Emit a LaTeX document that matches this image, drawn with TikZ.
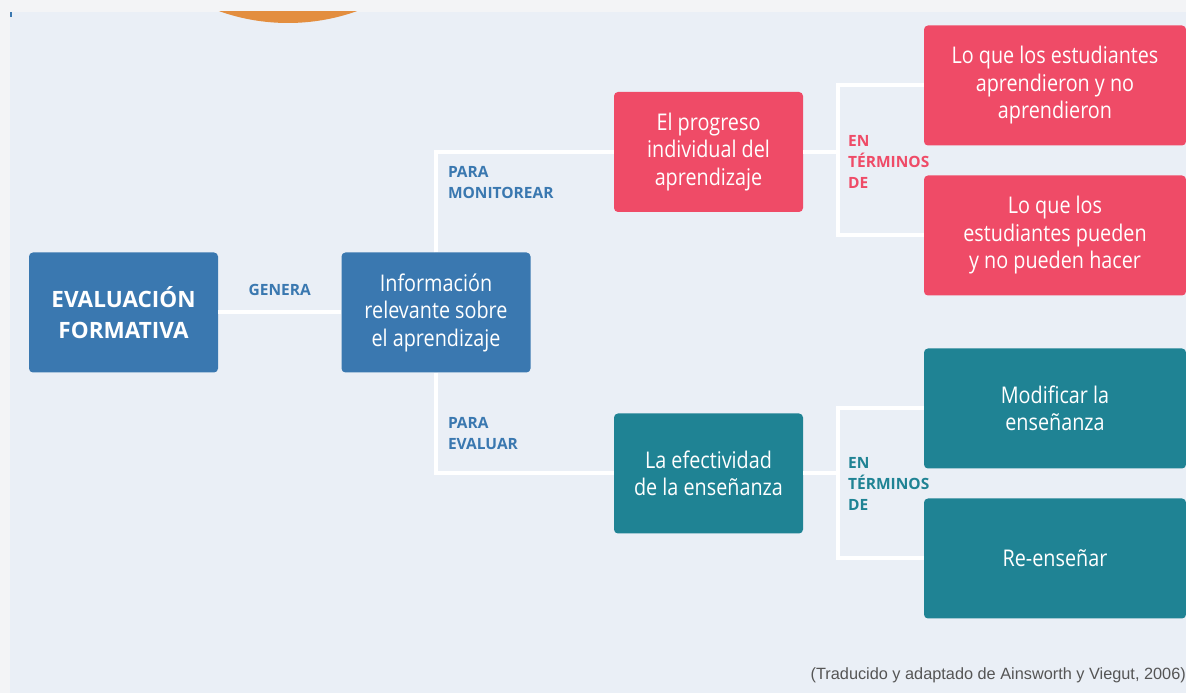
\documentclass[tikz,border=0pt]{standalone}
\usepackage{fontspec}
\setmainfont{Open Sans}[FakeStretch=0.86]
\newfontfamily\rotfont{Open Sans}
\newfontfamily\notefont{Liberation Sans}
\usepackage{tikz}
\usetikzlibrary{positioning}
\definecolor{azul}{HTML}{3A78B0}
\definecolor{rojo}{HTML}{EF4B67}
\definecolor{verde}{HTML}{1F8394}
\definecolor{fondo}{HTML}{EAEFF6}
\definecolor{marco}{HTML}{F3F4F6}
\definecolor{naranja}{HTML}{E38E3F}
\definecolor{gris}{HTML}{555555}
\tikzset{
    x=1pt, y=1pt, % one unit is one pixel of the page
    caja/.style={rounded corners=4pt, minimum height=120pt, text=white, align=center, inner sep=0pt, font=\fontsize{23}{27.5}\selectfont}, % every coloured box
    linea/.style={white, line width=4pt}, % the white connectors
}

\begin{document}
\begin{tikzpicture}[
                    cajaCorta/.style={caja, minimum width=189pt},
                    cajaAncha/.style={caja, minimum width=262pt},
                    rotulo/.style={font=\rotfont\bfseries\fontsize{15.5}{21}\selectfont, align=left, inner sep=0pt},
                ]
                \useasboundingbox (0,0) rectangle (1186,693);
                \fill[marco] (0,0) rectangle (1186,693);
                \fill[fondo] (10,0) rectangle (1186,681);
                \fill[azul] (10,676) rectangle (12,681);
                \begin{scope}
                    \clip (10,0) rectangle (1186,681);
                    \fill[naranja] (288,875) circle (205);
                \end{scope}
                \node[cajaCorta, fill=azul, font=\rotfont\bfseries\fontsize{22.5}{31}\selectfont] (evaluacion) at (123.5,380.5) {EVALUACIÓN\\FORMATIVA};
                \node[cajaCorta, fill=azul, node distance=312.5pt, right of=evaluacion] (informacion) {Información\\relevante sobre\\el aprendizaje};
                \node[cajaCorta, fill=rojo, node distance=272.5pt, right of=informacion, yshift=160.5pt] (progreso) {El progreso\\individual del\\aprendizaje};
                \node[cajaCorta, fill=verde, node distance=272.5pt, right of=informacion, yshift=-161pt] (efectividad) {La efectividad\\de la enseñanza};
                \node[cajaAncha, fill=rojo, node distance=346.5pt, right of=progreso, yshift=66.5pt] (aprendieron) {Lo que los estudiantes\\aprendieron y no\\aprendieron};
                \node[cajaAncha, fill=rojo, node distance=346.5pt, right of=progreso, yshift=-83.5pt] (pueden) {Lo que los\\estudiantes pueden\\y no pueden hacer};
                \node[cajaAncha, fill=verde, node distance=346.5pt, right of=efectividad, yshift=65pt] (modificar) {Modificar la\\enseñanza};
                \node[cajaAncha, fill=verde, node distance=346.5pt, right of=efectividad, yshift=-85pt] (reensenar) {Re-enseñar};
                \coordinate[node distance=129.5pt, right of=progreso] (nudoRojo);
                \coordinate[node distance=129.5pt, right of=efectividad] (nudoVerde);
                \draw[linea]
                (evaluacion) -- node[rotulo, text=azul, above=15pt] (genera) {GENERA} (informacion);
                \draw[linea]
                (informacion) |- node[pos=0.5, rotulo, text=azul, anchor=north west, xshift=10pt, yshift=-12pt] (monitorear) {PARA\\MONITOREAR} (progreso);
                \draw[linea]
                (informacion) |- node[pos=0.5, rotulo, text=azul, anchor=south west, xshift=10pt, yshift=22pt] (evaluar) {PARA\\EVALUAR} (efectividad);
                \draw[linea] (progreso) -- (nudoRojo);
                \draw[linea] (aprendieron) -| (nudoRojo) |- (pueden);
                \draw[linea] (efectividad) -- (nudoVerde);
                \draw[linea] (modificar) -| (nudoVerde) |- (reensenar);
                \node[rotulo, text=rojo, anchor=west, xshift=10pt, yshift=-10pt] (terminosRojo) at (nudoRojo) {EN\\TÉRMINOS\\DE};
                \node[rotulo, text=verde, anchor=west, xshift=10pt, yshift=-10pt] (terminosVerde) at (nudoVerde) {EN\\TÉRMINOS\\DE};
                \node[font=\notefont\fontsize{16.3}{19}\selectfont, text=gris, anchor=east, inner sep=0pt] (fuente) at (1186,18) {(Traducido y adaptado de Ainsworth y Viegut, 2006)};
            \end{tikzpicture}
\end{document}
